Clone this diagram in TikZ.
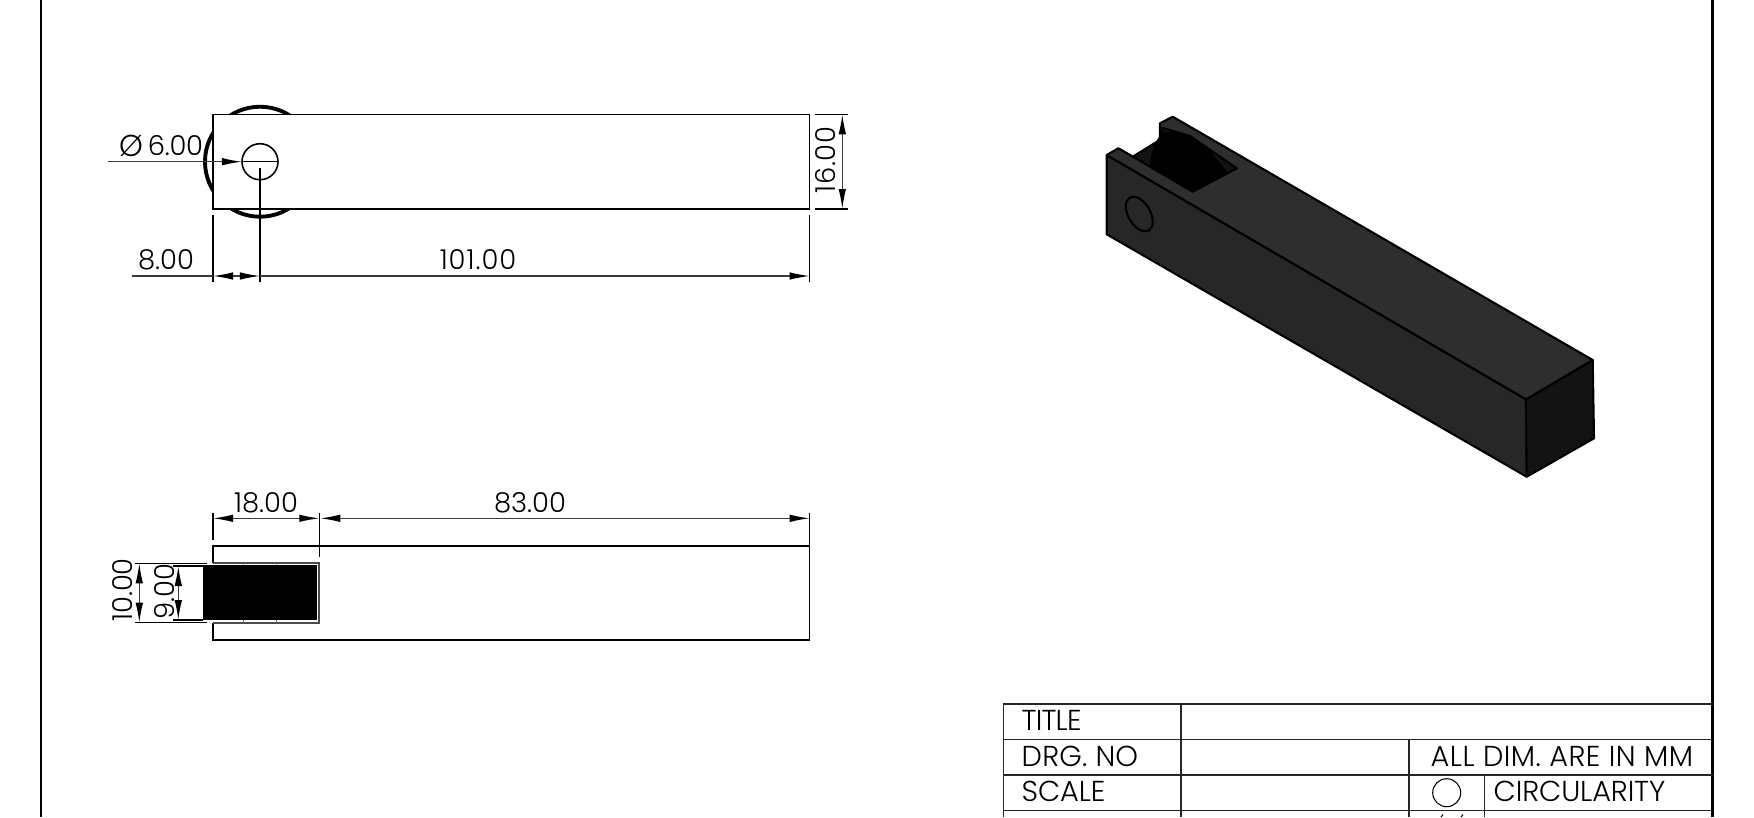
\documentclass[tikz,border=0pt]{standalone}
\usepackage{fontspec}
\setmainfont{Poppins}[UprightFont=* Light]
\usetikzlibrary{arrows.meta}
\definecolor{topface}{HTML}{2E2E2E}
\definecolor{sideface}{HTML}{272727}
\definecolor{endface}{HTML}{131313}
\definecolor{dimgrey}{HTML}{3A3A3A}
\tikzset{
	part/.style={draw=black,line width=0.45pt},
	dimline/.style={draw=dimgrey,line width=0.36pt,>={Latex[black,length=0.2cm,width=0.075cm]}},
	extline/.style={draw=black,line width=0.3pt},
	dimtext/.style={inner sep=0pt,font=\fontsize{7.8}{10}\selectfont},
	tabletext/.style={inner sep=0pt,anchor=west,font=\fontsize{8.2}{10}\selectfont},
	tableline/.style={draw=black!85,line width=0.42pt},
	isoedge/.style={draw=black,line width=0.6pt,line join=round},
}
\begin{document}
\begin{tikzpicture}[x=0.01cm,y=-0.01cm]
\useasboundingbox (0,0) rectangle (1754,817);
% sheet border
\coordinate (frameLT) at (41,0);
\coordinate (frameLB) at (41,817);
\coordinate (frameRT) at (1712.5,0);
\coordinate (frameRB) at (1712.5,817);
\draw [line width=0.6pt](frameLT)--(frameLB);
\draw [line width=0.6pt](frameRT)--(frameRB);
% top view
\coordinate (hole) at (260,161.7);
\draw [line width=1.1pt](hole) circle (55);
\filldraw [part,fill=white](213,114.3) rectangle (809.7,209);
\draw [part](hole) circle (18);
\coordinate (dialeft) at (108,161.7);
\coordinate (diatip) at (242,161.7);
\coordinate (diaend) at (277,161.7);
\draw [dimline,->](dialeft)--(diatip);
\draw [extline](diatip)--(diaend);
\node[dimtext] (diasign) at (131.5,146) {\fontsize{8.6}{10}\selectfont Ø};
\node[dimtext] (diatext) at (175.5,146) {\addfontfeature{LetterSpace=-1}6.00};
% dimensions of the top view
\coordinate (a8out) at (131.7,276);
\coordinate (a8l) at (213,276);
\coordinate (a8r) at (260,276);
\coordinate (a101r) at (809.7,276);
\draw [extline](213,215)--(213,282);
\draw [extline](260,168)--(260,282);
\draw [extline](809.7,215)--(809.7,282);
\draw [dimline](a8out)--(a8l);
\draw [dimline,<->](a8l)--(a8r);
\draw [dimline,->](a8r)--(a101r);
\node[dimtext] (t8) at (166,260) {8.00};
\node[dimtext] (t101) at (478,260) {\addfontfeature{LetterSpace=3.5}101.00};
\coordinate (a16t) at (842.3,114.3);
\coordinate (a16b) at (842.3,209);
\draw [extline](815,114.3)--(848,114.3);
\draw [extline](815,209)--(848,209);
\draw [dimline,<->](a16t)--(a16b);
\node[dimtext,rotate=90] (t16) at (826,160) {\addfontfeature{LetterSpace=2}16.00};
% lower view
\filldraw [part,fill=white](213,545.7) rectangle (809.7,640);
\fill [white](203,562.5) rectangle (319.5,622.7);
\draw [draw=black!70,line width=0.55pt](213,562.7)--(319,562.7)--(319,622.7)--(213,622.7);
\fill [black](203.3,565) rectangle (316.7,619.5);
\foreach \x in {243.3,276.7}{
	\draw [draw=black!55,line width=0.4pt](\x,563)--(\x,565);
	\draw [draw=black!55,line width=0.4pt](\x,619.5)--(\x,622.7);
}
% dimensions of the lower view
\coordinate (a18l) at (213,518.3);
\coordinate (a18r) at (319.3,518.3);
\coordinate (a83l) at (320.3,518.3);
\coordinate (a83r) at (809.7,518.3);
\draw [extline](213,512.7)--(213,540);
\draw [extline](319.3,512.7)--(319.3,557);
\draw [extline](809.7,512.7)--(809.7,545);
\draw [dimline,<->](a18l)--(a18r);
\draw [dimline,<->](a83l)--(a83r);
\node[dimtext] (t18) at (266,503) {18.00};
\node[dimtext] (t83) at (530,503) {83.00};
\coordinate (a10t) at (139.3,563.3);
\coordinate (a10b) at (139.3,622.7);
\coordinate (a9t) at (178.3,566);
\coordinate (a9b) at (178.3,620);
\draw [extline](135,563.3)--(207,563.3);
\draw [extline](135,622.7)--(207,622.7);
\draw [extline](172.7,566)--(203,566);
\draw [extline](172.7,620)--(203,620);
\draw [dimline,<->](a10t)--(a10b);
\draw [dimline,<->](a9t)--(a9b);
\node[dimtext,rotate=90] (t10) at (123,590) {10.00};
\node[dimtext,rotate=90] (t9) at (164.5,591.7) {9.00};
% isometric view
\filldraw [isoedge,fill=sideface](1106.7,155)--(1526,399.3)--(1526.7,476.7)--(1106.7,234.3)--cycle;
\filldraw [isoedge,fill=endface](1526,399.3)--(1592.7,360)--(1594,438.3)--(1526.7,476.7)--cycle;
\filldraw [isoedge,fill=topface](1106.7,155)--(1118.3,148.3)--(1133,156.7)--(1160,140)--(1160,123.3)--(1172.7,116.7)--(1592.7,360)--(1526,399.3)--cycle;
\filldraw [isoedge,fill=black!92](1133,156.7)--(1192.7,191.7)--(1236.7,168.3)--(1190,136)--(1163,128)--(1160,140)--cycle;
\fill [black](1163,133) .. controls (1175,128) and (1195,133) .. (1215,157) .. controls (1222,165) and (1226,170) .. (1228,173)--(1192.7,191.7)--(1150,167) .. controls (1150,155) and (1154,140) .. (1163,133);
\draw [isoedge,rotate around={30:(1139.3,214)}](1139.3,214) ellipse (11 and 19);
% title block
\coordinate (blockL) at (1003.3,704);
\draw [tableline](1003.3,817)--(1003.3,704)--(1712.5,704);
\draw [tableline](1003.3,739.3)--(1712.5,739.3);
\draw [tableline](1003.3,775)--(1712.5,775);
\draw [tableline](1003.3,810.7)--(1712.5,810.7);
\draw [tableline](1181,704)--(1181,817);
\draw [tableline](1409,739.3)--(1409,817);
\draw [tableline](1484.7,775)--(1484.7,817);
\node[tabletext] (ttitle) at (1021,720.7) {\addfontfeature{LetterSpace=-3}TITLE};
\node[tabletext] (tdrg) at (1021,756.7) {\addfontfeature{LetterSpace=0.7}DRG. NO};
\node[tabletext] (tscale) at (1021,791.7) {\addfontfeature{LetterSpace=-0.5}SCALE};
\node[tabletext] (tdim) at (1430,756.7) {\addfontfeature{LetterSpace=1.6}ALL DIM. ARE IN MM};
\node[tabletext] (tcirc) at (1493,791.7) {\addfontfeature{LetterSpace=-0.4}CIRCULARITY};
\draw [line width=0.3pt](1446.7,792.7) circle (14);
\draw [line width=0.3pt](1441,817)--(1443,814.5);
\draw [line width=0.3pt](1461,817)--(1463,814.5);
\end{tikzpicture}
\end{document}
